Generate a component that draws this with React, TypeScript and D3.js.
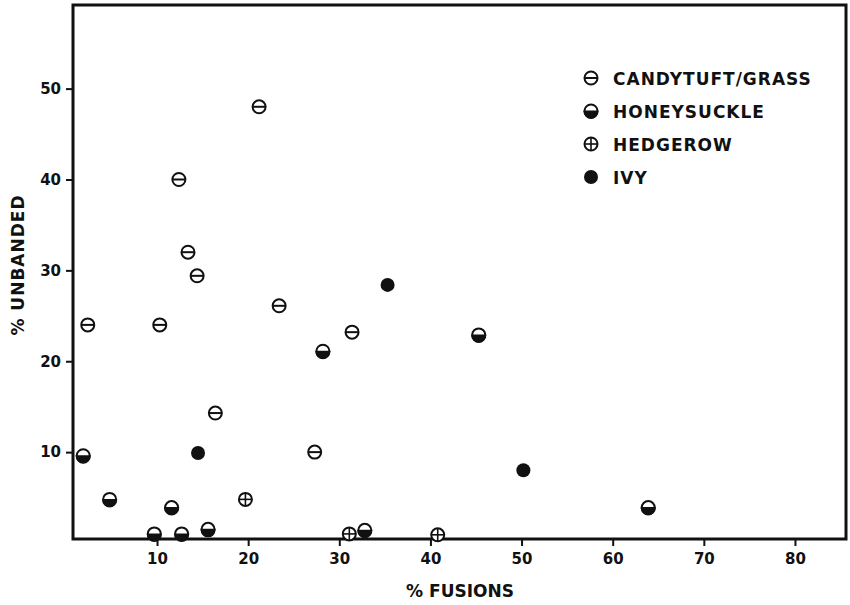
import React, { useEffect, useRef } from "react";
import * as d3 from "d3";

// values: [% fusions, % unbanded]
const candytuft: [number, number][] = [
  [21.2, 48.0], [12.4, 40.0], [13.4, 32.0], [14.4, 29.4], [2.4, 24.0],
  [10.3, 24.0], [23.4, 26.1], [31.4, 23.2], [16.4, 14.3], [27.3, 10.0],
];
const honeysuckle: [number, number][] = [
  [1.9, 9.6], [4.8, 4.8], [11.6, 3.9], [9.7, 1.0], [12.7, 1.0],
  [15.6, 1.5], [28.2, 21.1], [32.8, 1.4], [45.3, 22.9], [63.9, 3.9],
];
const hedgerow: [number, number][] = [[19.7, 4.8], [31.1, 1.0], [40.8, 0.9]];
const ivy: [number, number][] = [[14.5, 9.9], [35.3, 28.4], [50.2, 8.0]];

const xTicks = [10, 20, 30, 40, 50, 60, 70, 80];
const yTicks = [10, 20, 30, 40, 50];
const legendLabels = ["CANDYTUFT/GRASS", "HONEYSUCKLE", "HEDGEROW", "IVY"];
const seriesKeys = ["candytuft", "honeysuckle", "hedgerow", "ivy"];

const width = 850;
const height = 605;
const margin = { top: 5, right: 4, bottom: 66, left: 73 };
const R = 6.5;
const font = "'DejaVu Sans', sans-serif";

// draw one marker of a given kind into a group
function drawMarker(g: any, kind: string) {
  if (kind === "ivy") {
    g.append("circle").attr("r", R + 0.5).attr("fill", "#111");
    return;
  }
  g.append("circle").attr("r", R).attr("fill", "#fff").attr("stroke", "#111").attr("stroke-width", 2);
  if (kind === "candytuft") {
    g.append("line").attr("x1", -R).attr("x2", R).attr("stroke", "#111").attr("stroke-width", 2);
  } else if (kind === "honeysuckle") {
    g.append("path")
      .attr("d", `M${-R},0.5 A${R},${R} 0 0 0 ${R},0.5 Z`)
      .attr("fill", "#111")
      .attr("stroke", "#111")
      .attr("stroke-width", 2);
  } else if (kind === "hedgerow") {
    g.append("line").attr("x1", -R).attr("x2", R).attr("stroke", "#111").attr("stroke-width", 1.6);
    g.append("line").attr("y1", -R).attr("y2", R).attr("stroke", "#111").attr("stroke-width", 1.6);
  }
}

const App = () => {
  const svgRef = useRef<SVGSVGElement>(null);

  useEffect(() => {
    const svg = d3.select(svgRef.current);
    svg.selectAll("*").remove();

    const x = d3.scaleLinear().domain([0.78, 85.6]).range([margin.left, width - margin.right]);
    const y = d3.scaleLinear().domain([0.44, 59.2]).range([height - margin.bottom, margin.top]);

    // frame
    svg
      .append("rect")
      .attr("x", margin.left)
      .attr("y", margin.top)
      .attr("width", width - margin.left - margin.right)
      .attr("height", height - margin.top - margin.bottom)
      .attr("fill", "none")
      .attr("stroke", "#111")
      .attr("stroke-width", 3);

    // x axis
    const xAxis = svg
      .append("g")
      .attr("transform", "translate(0," + (height - margin.bottom) + ")")
      .call(d3.axisBottom(x).tickValues(xTicks).tickSize(7).tickPadding(7).tickFormat(d3.format("d")));
    xAxis.select(".domain").remove();
    xAxis.selectAll("line").attr("stroke", "#111").attr("stroke-width", 2);
    xAxis
      .selectAll("text")
      .attr("fill", "#111")
      .style("font-family", font)
      .style("font-weight", "bold")
      .style("font-size", "15px");

    // y axis
    const yAxis = svg
      .append("g")
      .attr("transform", "translate(" + margin.left + ",0)")
      .call(d3.axisLeft(y).tickValues(yTicks).tickSize(7).tickPadding(5).tickFormat(d3.format("d")));
    yAxis.select(".domain").remove();
    yAxis.selectAll("line").attr("stroke", "#111").attr("stroke-width", 2);
    yAxis
      .selectAll("text")
      .attr("fill", "#111")
      .style("font-family", font)
      .style("font-weight", "bold")
      .style("font-size", "15px");

    // axis titles
    svg
      .append("text")
      .attr("x", 460)
      .attr("y", 597)
      .attr("text-anchor", "middle")
      .style("font-family", font)
      .style("font-weight", "bold")
      .style("font-size", "17px")
      .attr("fill", "#111")
      .text("% FUSIONS");

    svg
      .append("text")
      .attr("transform", "translate(24,265) rotate(-90)")
      .attr("text-anchor", "middle")
      .style("font-family", font)
      .style("font-weight", "bold")
      .style("font-size", "17px")
      .style("letter-spacing", "1px")
      .attr("fill", "#111")
      .text("% UNBANDED");

    // points
    const series: [string, [number, number][]][] = [
      ["candytuft", candytuft],
      ["honeysuckle", honeysuckle],
      ["hedgerow", hedgerow],
      ["ivy", ivy],
    ];
    series.forEach(([kind, pts]) => {
      pts.forEach((d) => {
        const g = svg.append("g").attr("transform", "translate(" + x(d[0]) + "," + y(d[1]) + ")");
        drawMarker(g, kind);
      });
    });

    // legend
    const legend = svg.append("g").attr("transform", "translate(591,78)");
    legendLabels.forEach((label, i) => {
      const row = legend.append("g").attr("transform", "translate(0," + i * 33 + ")");
      drawMarker(row.append("g"), seriesKeys[i]);
      row
        .append("text")
        .attr("x", 22)
        .attr("y", 6.5)
        .style("font-family", font)
        .style("font-weight", "bold")
        .style("font-size", "17px")
        .style("letter-spacing", "1px")
        .attr("fill", "#111")
        .text(label);
    });
  }, []);

  return (
    <div>
      <svg
        ref={svgRef}
        width={width}
        height={height}
        style={{ position: "absolute", left: 0, top: 0, background: "#fff" }}
      />
    </div>
  );
};

export default App;
